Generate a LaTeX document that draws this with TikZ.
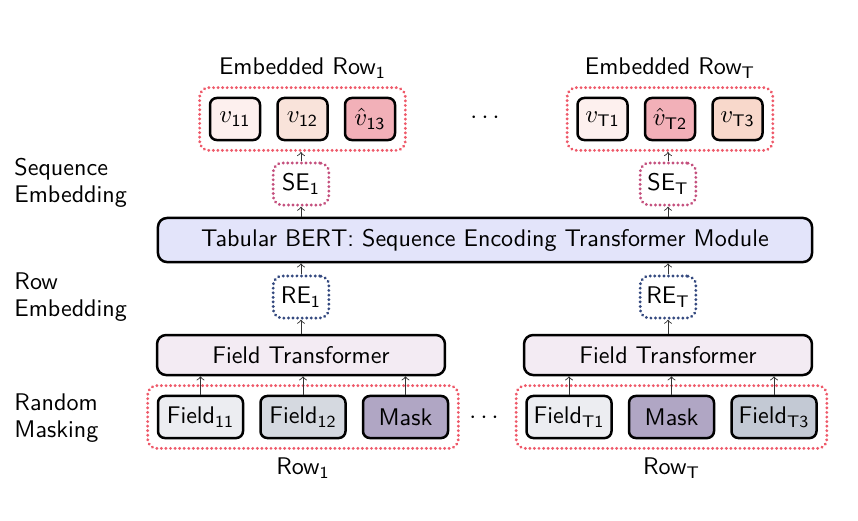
\documentclass[tikz,border=0pt]{standalone}
\usepackage{fontspec}
\usetikzlibrary{positioning,fit}
\renewcommand{\familydefault}{\sfdefault}

\definecolor{reddot}{HTML}{EE5A6A}
\definecolor{sedot}{HTML}{C4507E}
\definecolor{redot}{HTML}{34497F}
\definecolor{bertfill}{HTML}{E3E4FA}
\definecolor{ftfill}{HTML}{F3EBF3}
\definecolor{vlight}{HTML}{FDF0EE}
\definecolor{vpeach}{HTML}{F9E3DA}
\definecolor{vpeachb}{HTML}{F8D8CB}
\definecolor{vpink}{HTML}{F2B0B8}
\definecolor{fieldA}{HTML}{ECEDF1}
\definecolor{fieldB}{HTML}{D5D9E0}
\definecolor{fieldC}{HTML}{C3C9D4}
\definecolor{maskfill}{HTML}{B0A6C4}

\begin{document}
\begin{tikzpicture}[
    x=0.44pt, y=-0.44pt,
    font=\fontsize{10.6}{11.8}\selectfont,
    token/.style={draw, line width=1.1pt, rounded corners=3pt, minimum width=22pt, minimum height=18.5pt, inner sep=0pt},
    field/.style={draw, line width=1.1pt, rounded corners=3pt, minimum width=37.4pt, minimum height=18.5pt, inner sep=0pt},
    module/.style={draw, line width=1.1pt, rounded corners=4pt, minimum height=17.6pt, inner sep=0pt},
    embed/.style={draw, line width=1.4pt, dash pattern=on 0.01pt off 2pt, line cap=round, rounded corners=4pt, minimum width=24.5pt, minimum height=18.5pt, inner sep=0pt},
    group/.style={draw=reddot, line width=1.4pt, dash pattern=on 0.01pt off 2pt, line cap=round, rounded corners=4pt, inner sep=4pt},
    side/.style={anchor=west, align=left, inner sep=0pt},
    arrow/.style={->, line width=0.4pt, black!80}
]
    \useasboundingbox (0,0) rectangle (858,520);

    % Embedded rows
    \node[token, fill=vlight] (v11) at (235,119) {$v_{\mathsf{11}}$};
    \node[token, fill=vpeach, right=6.6pt of v11] (v12) {$v_{\mathsf{12}}$};
    \node[token, fill=vpink, right=6.6pt of v12] (v13) {$\hat{v}_{\mathsf{13}}$};
    \node[token, fill=vlight] (vT1) at (602.5,119) {$v_{\mathsf{T1}}$};
    \node[token, fill=vpink, right=6.6pt of vT1] (vT2) {$\hat{v}_{\mathsf{T2}}$};
    \node[token, fill=vpeachb, right=6.6pt of vT2] (vT3) {$v_{\mathsf{T3}}$};
    \node[group, fit=(v11)(v13)] (emb1) {};
    \node[group, fit=(vT1)(vT3)] (embT) {};
    \node[above=0pt of emb1] (emblab1) {Embedded Row\textsubscript{1}};
    \node[above=0pt of embT] (emblabT) {Embedded Row\textsubscript{T}};
    \node (dotsTop) at (485,118) {$\cdots$};

    % Sequence embeddings
    \node[embed, draw=sedot] (se1) at (301,184) {SE\textsubscript{1}};
    \node[embed, draw=sedot] (seT) at (668,184) {SE\textsubscript{T}};

    % Transformer module
    \node[module, fill=bertfill, minimum width=287.8pt, minimum height=19.4pt] (bert) at (485,240) {Tabular BERT: Sequence Encoding Transformer Module};

    % Row embeddings
    \node[embed, draw=redot] (re1) at (301,297) {RE\textsubscript{1}};
    \node[embed, draw=redot] (reT) at (668,297) {RE\textsubscript{T}};

    % Field transformers
    \node[module, fill=ftfill, minimum width=126.7pt] (ft1) at (301,355) {Field Transformer};
    \node[module, fill=ftfill, minimum width=126.7pt] (ftT) at (668,355) {Field Transformer};

    % Rows
    \node[field, fill=fieldA] (f11) at (200.5,417) {Field\textsubscript{11}};
    \node[field, fill=fieldB, right=6.6pt of f11] (f12) {Field\textsubscript{12}};
    \node[field, fill=maskfill, right=6.6pt of f12] (mask1) {Mask};
    \node[field, fill=fieldA] (fT1) at (569,417) {Field\textsubscript{T1}};
    \node[field, fill=maskfill, right=6.6pt of fT1] (maskT) {Mask};
    \node[field, fill=fieldC, right=6.6pt of maskT] (fT3) {Field\textsubscript{T3}};
    \node[group, fit=(f11)(mask1)] (row1) {};
    \node[group, fit=(fT1)(fT3)] (rowT) {};
    \node[below=0pt of row1] (rowlab1) {Row\textsubscript{1}};
    \node[below=0pt of rowT] (rowlabT) {Row\textsubscript{T}};
    \node (dotsBottom) at (484,418) {$\cdots$};

    % Side labels
    \node[side] (seqlab) at (14,183) {Sequence\\Embedding};
    \node[side] (rowemblab) at (14,297) {Row\\Embedding};
    \node[side] (masklab) at (14,418) {Random\\Masking};

    % Arrows
    \foreach \f/\t in {f11/ft1, f12/ft1, mask1/ft1, fT1/ftT, maskT/ftT, fT3/ftT}
        \draw[arrow] (\f.north) -- (\f.north |- \t.south);
    \foreach \f/\t in {ft1/re1, ftT/reT}
        \draw[arrow] (\t.south |- \f.north) -- (\t.south);
    \foreach \f in {re1, reT}
        \draw[arrow] (\f.north) -- (\f.north |- bert.south);
    \foreach \t in {se1, seT}
        \draw[arrow] (\t.south |- bert.north) -- (\t.south);
    \draw[arrow] (se1.north) -- (se1.north |- emb1.south);
    \draw[arrow] (seT.north) -- (seT.north |- embT.south);
\end{tikzpicture}
\end{document}
